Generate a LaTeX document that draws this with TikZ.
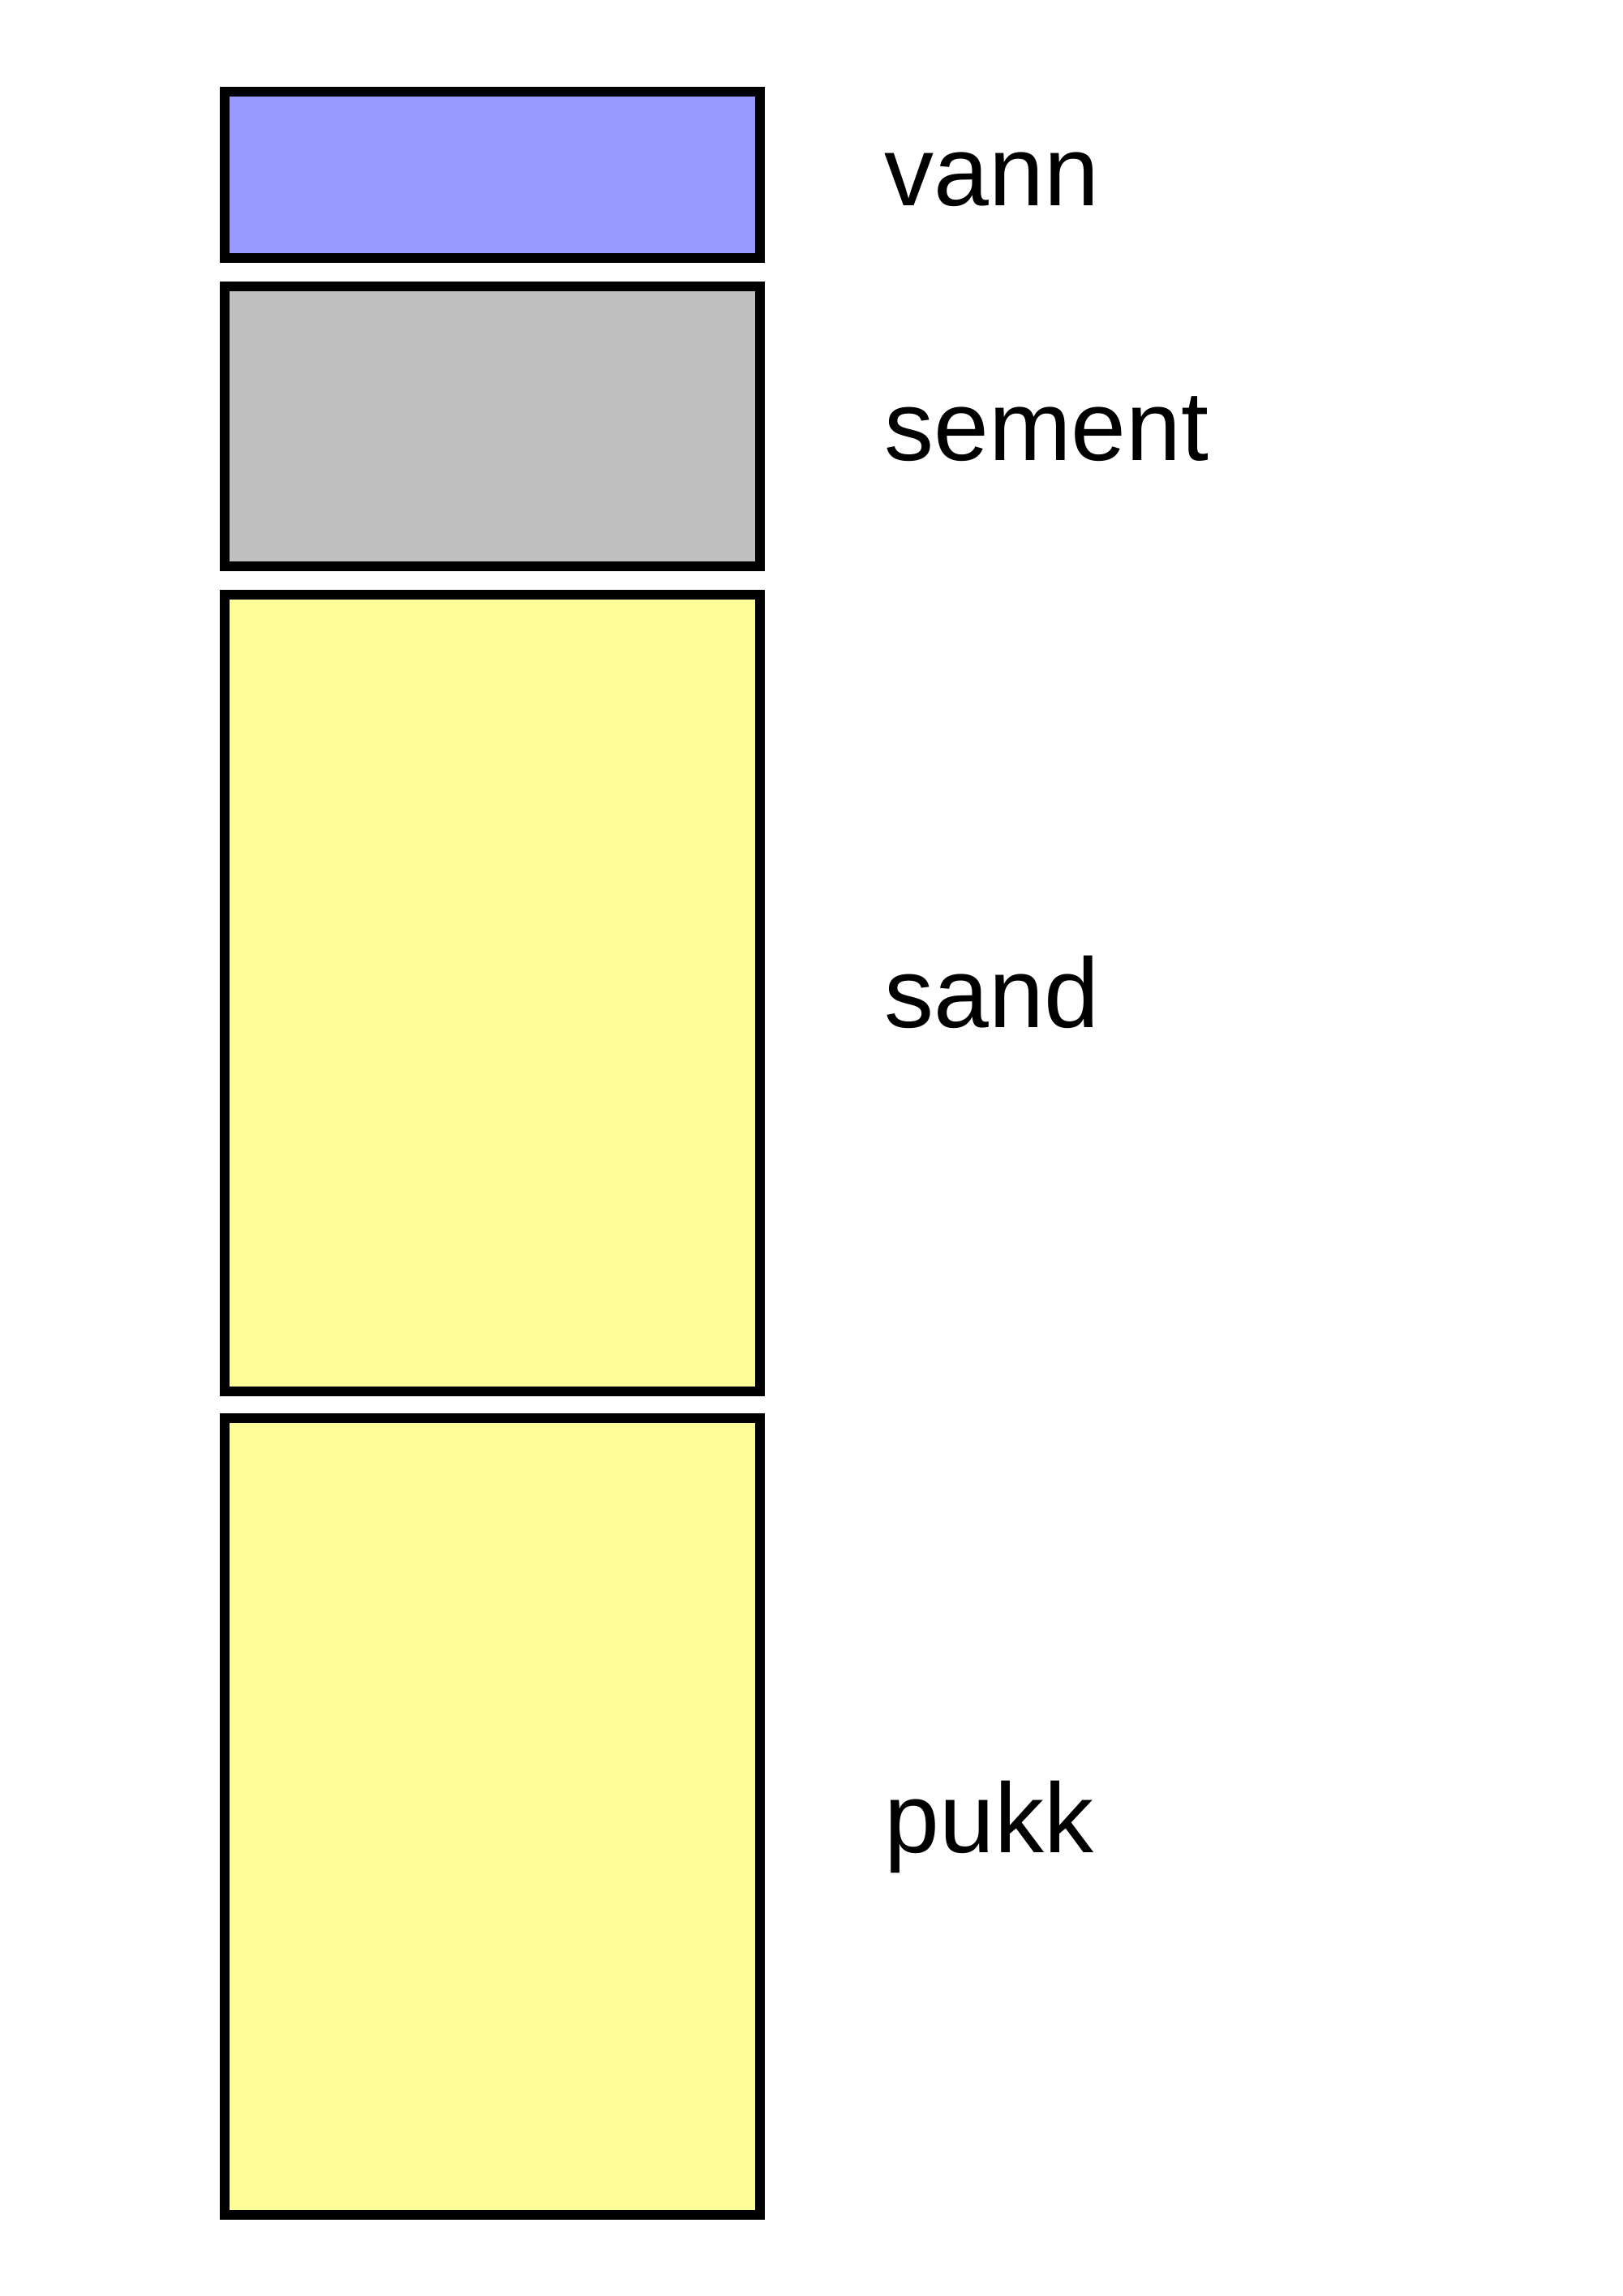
\documentclass[tikz,border=0pt]{standalone}
\usepackage{fontspec}
\setmainfont{Liberation Sans}
\definecolor{vanncol}{RGB}{153,153,255}
\definecolor{sementcol}{RGB}{192,192,192}
\definecolor{sandcol}{RGB}{252,252,153}
\tikzset{
    layer/.style={draw=black, line width=3.3pt, minimum width=6.6cm, inner sep=0pt},
    lbl/.style={anchor=base west, inner sep=0pt, font=\fontsize{34.7}{40}\selectfont}
}
\begin{document}
\begin{tikzpicture}
        \useasboundingbox (0,0) rectangle (20,28.3);

        \node[layer, fill=vanncol, minimum height=2.05cm] (vann) at (6.07,26.145) {};
        \node[layer, fill=sementcol, minimum height=3.45cm] (sement) at (6.07,23.045) {};
        \node[layer, fill=sandcol, minimum height=9.82cm] (sand) at (6.07,16.06) {};
        \node[layer, fill=sandcol, minimum height=9.82cm] (pukk) at (6.07,5.91) {};

        \node[lbl] (vannlbl) at ([xshift=1.47cm,yshift=-0.38cm]vann.east) {vann};
        \node[lbl] (sementlbl) at ([xshift=1.47cm,yshift=-0.42cm]sement.east) {sement};
        \node[lbl] (sandlbl) at ([xshift=1.47cm,yshift=-0.43cm]sand.east) {sand};
        \node[lbl] (pukklbl) at ([xshift=1.47cm,yshift=-0.45cm]pukk.east) {pukk};
\end{tikzpicture}
\end{document}
